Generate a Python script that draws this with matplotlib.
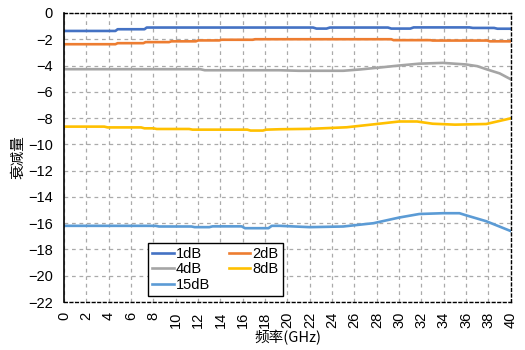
"""
Attenuation vs frequency for the step attenuator settings
"""

import matplotlib
matplotlib.use("Agg")
import matplotlib.pyplot as plt

plt.rcParams["font.family"] = ["Liberation Sans", "Noto Sans CJK SC", "DejaVu Sans"]

# measured curves (GHz, dB)
freq_1db = [0, 4.6, 4.8, 7.2, 7.4, 22.3, 22.6, 23.5, 23.8, 29.0, 29.3, 31.0, 31.3, 36.3, 36.6, 38.5, 38.8, 40]
att_1db = [-1.37, -1.37, -1.24, -1.24, -1.11, -1.11, -1.19, -1.19, -1.11, -1.11, -1.19, -1.19, -1.1, -1.1, -1.14, -1.14, -1.2, -1.2]

freq_2db = [0, 4.6, 4.8, 7.1, 7.3, 9.4, 9.6, 11.8, 12.0, 13.9, 14.1, 16.9, 17.1, 29.3, 29.5, 32.8, 33.0, 37.9, 38.1, 40]
att_2db = [-2.38, -2.38, -2.3, -2.3, -2.22, -2.22, -2.16, -2.16, -2.09, -2.09, -2.04, -2.04, -2.0, -2.0, -2.07, -2.07, -2.1, -2.1, -2.16, -2.16]

freq_4db = [0, 12.2, 12.6, 19.3, 21, 25, 26.5, 28.3, 30, 31.8, 33.9, 36, 37, 37.8, 39, 40]
att_4db = [-4.28, -4.28, -4.36, -4.36, -4.4, -4.4, -4.3, -4.15, -4.0, -3.86, -3.8, -3.92, -4.05, -4.28, -4.6, -5.05]

freq_8db = [0, 3.6, 3.9, 6.9, 7.2, 8.0, 8.3, 11.2, 11.5, 16.4, 16.7, 17.8, 18.1, 19.3, 22, 25.3, 28, 30, 31.6, 33, 35, 37.8, 40]
att_8db = [-8.65, -8.65, -8.71, -8.71, -8.78, -8.78, -8.83, -8.83, -8.88, -8.88, -8.95, -8.95, -8.88, -8.85, -8.82, -8.7, -8.45, -8.26, -8.26, -8.43, -8.5, -8.45, -8.02]

freq_15db = [0, 8.2, 8.5, 11.4, 11.7, 13.0, 13.3, 14.0, 15.9, 16.2, 18.3, 18.6, 19.3, 22, 25, 27.7, 30, 31.8, 33.9, 35.4, 36, 37.8, 40]
att_15db = [-16.2, -16.2, -16.25, -16.25, -16.3, -16.3, -16.24, -16.24, -16.24, -16.38, -16.38, -16.2, -16.2, -16.3, -16.25, -16.0, -15.57, -15.3, -15.24, -15.24, -15.4, -15.85, -16.6]

series = [
    ("1dB", freq_1db, att_1db, "#4472C4"),
    ("2dB", freq_2db, att_2db, "#ED7D31"),
    ("4dB", freq_4db, att_4db, "#A5A5A5"),
    ("8dB", freq_8db, att_8db, "#FFC000"),
    ("15dB", freq_15db, att_15db, "#5B9BD5"),
]

fig = plt.figure(figsize=(5.25, 3.5), dpi=100)
ax = fig.add_axes([0.122, 0.137, 0.851, 0.826])

handles = {}
for name, xs, ys, color in series:
    (line,) = ax.plot(xs, ys, color=color, lw=1.9, label=name, solid_joinstyle="round")
    handles[name] = line

ax.set_xlim(0, 40)
ax.set_ylim(-22, 0)
ax.set_xticks(range(0, 41, 2))
ax.set_yticks(range(-22, 1, 2))
ax.tick_params(axis="x", labelrotation=90, length=0, pad=7, labelsize=10.5)
ax.tick_params(axis="y", length=0, pad=8, labelsize=10.5)

# dashed grid and dashed frame except left axis
ax.grid(color="#aaaaaa", ls=(0, (3, 3)), lw=0.9)
for side in ["top", "right", "bottom"]:
    ax.spines[side].set_linestyle((0, (2, 2)))
    ax.spines[side].set_linewidth(1.0)
ax.spines["left"].set_linewidth(1.2)

ax.set_xlabel("频率(GHz)", family=["Noto Sans CJK SC", "DejaVu Sans"], fontsize=10.5, labelpad=1)
ax.set_ylabel("衰减量", family=["Noto Sans CJK SC", "DejaVu Sans"], fontsize=10.5, labelpad=2)

# row-major order with 2 columns
order = ["1dB", "4dB", "15dB", "2dB", "8dB"]
leg = ax.legend(
    [handles[k] for k in order],
    order,
    ncol=2,
    loc="lower left",
    bbox_to_anchor=(0.188, 0.02),
    fancybox=False,
    framealpha=1,
    edgecolor="black",
    fontsize=10.5,
    handlelength=1.45,
    handletextpad=0.15,
    columnspacing=1.3,
    labelspacing=0.1,
    borderpad=0.3,
    borderaxespad=0,
)
leg.get_frame().set_linewidth(1.0)

plt.savefig("out.png", dpi=100)
